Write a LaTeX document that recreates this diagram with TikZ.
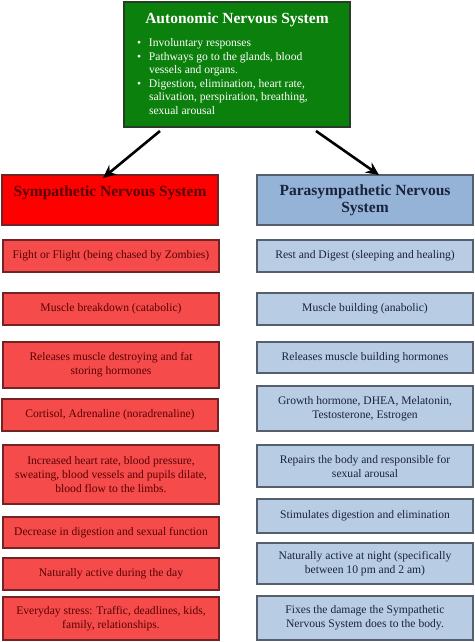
\documentclass[tikz,border=0pt]{standalone}
\usepackage{fontspec}
\setmainfont{Liberation Serif}
\usetikzlibrary{arrows.meta}
\definecolor{gfill}{RGB}{12,128,12}
\definecolor{gdraw}{RGB}{40,60,40}
\definecolor{rtfill}{RGB}{255,0,0}
\definecolor{rfill}{RGB}{245,75,75}
\definecolor{rdraw}{RGB}{115,35,35}
\definecolor{rtext}{RGB}{90,0,0}
\definecolor{btfill}{RGB}{149,179,215}
\definecolor{bfill}{RGB}{184,204,228}
\definecolor{bdraw}{RGB}{85,95,110}
\definecolor{btext}{RGB}{25,35,60}
\tikzset{
  x=1pt, y=-1pt,
  box/.style={draw, line width=1.3pt, minimum width=216pt, inner sep=2pt, align=center,
    font=\fontsize{11.6}{14}\selectfont},
  redbox/.style={box, fill=rfill, draw=rdraw, text=rtext},
  bluebox/.style={box, fill=bfill, draw=bdraw, text=btext},
  redtitle/.style={box, fill=rtfill, draw=rdraw, text=rtext, minimum height=50pt,
    font=\bfseries\fontsize{15.5}{17}\selectfont},
  bluetitle/.style={box, fill=btfill, draw=bdraw, text=btext, minimum height=50pt,
    font=\bfseries\fontsize{15.5}{17}\selectfont},
  gbox/.style={draw=gdraw, line width=1.3pt, fill=gfill, text=white, minimum width=226pt,
    minimum height=125pt, inner sep=0pt},
  arr/.style={line width=2.6pt, -{Stealth[length=13pt,width=12pt]}},
}
\begin{document}
\begin{tikzpicture}
\useasboundingbox[fill=white] (0,0) rectangle (474,642);
% Autonomic
\node[gbox] (g) at (237,64.5) {\begin{minipage}{216pt}
\vspace*{2pt}
\centering{\bfseries\fontsize{15.5}{17}\selectfont Autonomic Nervous System}\par
\vspace{9pt}
\fontsize{11.6}{13.5}\selectfont
\begin{tabular}{@{\hspace{7pt}}p{12pt}@{}p{195pt}@{}}
\textbullet & Involuntary responses\\
\textbullet & Pathways go to the glands, blood\newline vessels and organs.\\
\textbullet & Digestion, elimination, heart rate,\newline salivation, perspiration, breathing,\newline sexual arousal
\end{tabular}
\end{minipage}};
% titles
\node[redtitle] (rt) at (110,200) {Sympathetic Nervous System\\ \mbox{}};
\node[bluetitle] (bt) at (365,200) {Parasympathetic Nervous\\ System};
% arrows
\coordinate (la) at (160,131);
\coordinate (lb) at (103,178);
\coordinate (ra) at (316,131);
\coordinate (rb) at (379,175);
\draw[arr] (la) -- (lb);
\draw[arr] (ra) -- (rb);
% red column
\node[redbox, minimum height=32pt] (r1) at (111,256) {Fight or Flight (being chased by Zombies)};
\node[redbox, minimum height=32pt] (r2) at (111,309) {Muscle breakdown (catabolic)};
\node[redbox, minimum height=46pt] (r3) at (111,365) {Releases muscle destroying and fat\\ storing hormones};
\node[redbox, minimum height=32pt] (r4) at (110,415) {Cortisol, Adrenaline (noradrenaline)};
\node[redbox, minimum height=59pt] (r5) at (111,474.5) {Increased heart rate, blood pressure,\\ sweating, blood vessels and pupils dilate,\\ blood flow to the limbs.};
\node[redbox, minimum height=31pt] (r6) at (111,532.5) {Decrease in digestion and sexual function};
\node[redbox, minimum height=32pt] (r7) at (111,574) {Naturally active during the day};
\node[redbox, minimum height=43pt] (r8) at (111,618.5) {Everyday stress: Traffic, deadlines, kids,\\ family, relationships.};
% blue column
\node[bluebox, minimum height=32pt] (b1) at (365,256) {Rest and Digest (sleeping and healing)};
\node[bluebox, minimum height=32pt] (b2) at (365,309) {Muscle building (anabolic)};
\node[bluebox, minimum height=31pt] (b3) at (365,357.5) {Releases muscle building hormones};
\node[bluebox, minimum height=45pt] (b4) at (365,408.5) {Growth hormone, DHEA, Melatonin,\\ Testosterone, Estrogen};
\node[bluebox, minimum height=42pt] (b5) at (365,466) {Repairs the body and responsible for\\ sexual arousal};
\node[bluebox, minimum height=34pt] (b6) at (365,516) {Stimulates digestion and elimination};
\node[bluebox, minimum height=41pt] (b7) at (365,563.5) {Naturally active at night (specifically\\ between 10 pm and 2 am)};
\node[bluebox, minimum height=44pt] (b8) at (365,618) {Fixes the damage the Sympathetic\\ Nervous System does to the body.};
\end{tikzpicture}
\end{document}
